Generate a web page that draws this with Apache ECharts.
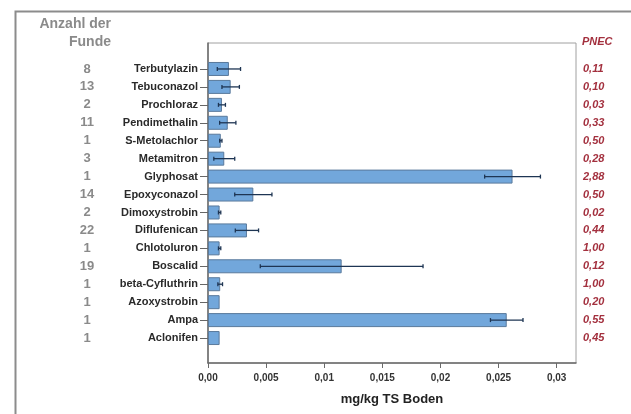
<!DOCTYPE html>
<html>
<head>
<meta charset="utf-8">
<script src="https://cdn.jsdelivr.net/npm/echarts@6/dist/echarts.min.js"></script>
<style>html,body{margin:0;padding:0;background:#fff;}#c{width:631px;height:414px;}</style>
</head>
<body>
<div id="c"></div>
<script>
var substances = ['Terbutylazin','Tebuconazol','Prochloraz','Pendimethalin','S-Metolachlor','Metamitron','Glyphosat','Epoxyconazol','Dimoxystrobin','Diflufenican','Chlotoluron','Boscalid','beta-Cyfluthrin','Azoxystrobin','Ampa','Aclonifen'];
var counts = ['8','13','2','11','1','3','1','14','2','22','1','19','1','1','1','1'];
var pnec = ['0,11','0,10','0,03','0,33','0,50','0,28','2,88','0,50','0,02','0,44','1,00','0,12','1,00','0,20','0,55','0,45'];
var means = [0.0018,0.00195,0.0012,0.0017,0.0011,0.0014,0.0262,0.0039,0.0010,0.00335,0.0010,0.0115,0.00105,0.0010,0.0257,0.0010];
var errors = [0.0010,0.00075,0.0003,0.0007,0.0001,0.0009,0.0024,0.0016,0.0001,0.0010,0.0001,0.0070,0.0002,0,0.0014,0];
var xTicks = [0,0.005,0.01,0.015,0.02,0.025,0.03];

var errData = [];
for (var i = 0; i < means.length; i++) {
  if (errors[i] > 0) errData.push([means[i]-errors[i], i, means[i]+errors[i]]);
}
function fmt(v){
  for (var k=0;k<xTicks.length;k++){
    if (Math.abs(v-xTicks[k])<1e-9){
      var s = (Math.abs(v*100-Math.round(v*100))<1e-9) ? v.toFixed(2) : v.toFixed(3);
      return s.replace('.',',');
    }
  }
  return '';
}
var chart = echarts.init(document.getElementById('c'));
var FONT = 'Liberation Sans, Arial, sans-serif';
chart.setOption({
  animation:false,
  textStyle:{fontFamily:FONT},
  graphic:[
    {type:'rect', left:13, top:9, shape:{width:700,height:500}, style:{fill:'none', stroke:'#8c8c8c', lineWidth:2}, silent:true},
    {type:'text', right:631-111, top:17, style:{text:'Anzahl der', font:'bold 14px '+FONT, fill:'#8a8a8a', textAlign:'right'}},
    {type:'text', right:631-111, top:35, style:{text:'Funde', font:'bold 14px '+FONT, fill:'#8a8a8a', textAlign:'right'}},
    {type:'text', left:582, top:36, style:{text:'PNEC', font:'italic bold 11px '+FONT, fill:'#a3303e'}}
  ],
  grid:[
    {left:208, top:43, width:368, height:320, show:true, borderColor:'#a0a0a0', borderWidth:1, containLabel:false},
    {left:208, top:60, width:368, height:287, containLabel:false}
  ],
  xAxis:[
    {type:'value', gridIndex:0, min:0, max:0.03166, interval:0.005,
     axisLine:{show:true, lineStyle:{color:'#6a6a6a', width:1.5}},
     axisTick:{show:true, length:5, lineStyle:{color:'#6a6a6a'}},
     axisLabel:{formatter:fmt, showMaxLabel:false, margin:10, fontSize:10, fontWeight:'bold', color:'#333', fontFamily:FONT},
     splitLine:{show:false},
     name:'mg/kg TS Boden', nameLocation:'middle', nameGap:30,
     nameTextStyle:{fontSize:13, fontWeight:'bold', color:'#222', fontFamily:FONT}},
    {type:'value', gridIndex:1, min:0, max:0.03166, show:false}
  ],
  yAxis:[
    {type:'value', gridIndex:0, axisLine:{show:true, lineStyle:{color:'#6a6a6a', width:1.5}}, axisTick:{show:false}, axisLabel:{show:false}, splitLine:{show:false}},
    {type:'category', gridIndex:1, data:substances, inverse:true,
     axisLine:{show:false}, axisTick:{show:true, alignWithLabel:true, length:8, lineStyle:{color:'#666'}},
     axisLabel:{margin:10, fontSize:11, fontWeight:'bold', color:'#2a2a2a', fontFamily:FONT}},
    {type:'category', gridIndex:1, data:counts, inverse:true, position:'left',
     axisLine:{show:false}, axisTick:{show:false},
     axisLabel:{margin:121, align:'center', fontSize:13, fontWeight:'bold', color:'#8a8a8a', fontFamily:FONT}},
    {type:'category', gridIndex:1, data:pnec, inverse:true, position:'right',
     axisLine:{show:false}, axisTick:{show:false},
     axisLabel:{margin:7, fontSize:11, fontWeight:'bold', fontStyle:'italic', color:'#a3303e', fontFamily:FONT}}
  ],
  series:[
    {type:'bar', xAxisIndex:1, yAxisIndex:1, data:means, barWidth:14, z:2,
     itemStyle:{color:'#72a7db', borderColor:'#5a7a9c', borderWidth:1}},
    {type:'custom', xAxisIndex:1, yAxisIndex:1, data:errData, z:5,
     encode:{x:[0,2], y:1},
     renderItem:function(params, api){
       var lo = api.coord([api.value(0), api.value(1)]);
       var hi = api.coord([api.value(2), api.value(1)]);
       var h = 2;
       var st = {stroke:'#1e3553', lineWidth:1.3};
       return {type:'group', children:[
         {type:'line', shape:{x1:lo[0], y1:lo[1], x2:hi[0], y2:hi[1]}, style:st},
         {type:'line', shape:{x1:lo[0], y1:lo[1]-h, x2:lo[0], y2:lo[1]+h}, style:st},
         {type:'line', shape:{x1:hi[0], y1:hi[1]-h, x2:hi[0], y2:hi[1]+h}, style:st}
       ]};
     }}
  ]
});
</script>
</body>
</html>
